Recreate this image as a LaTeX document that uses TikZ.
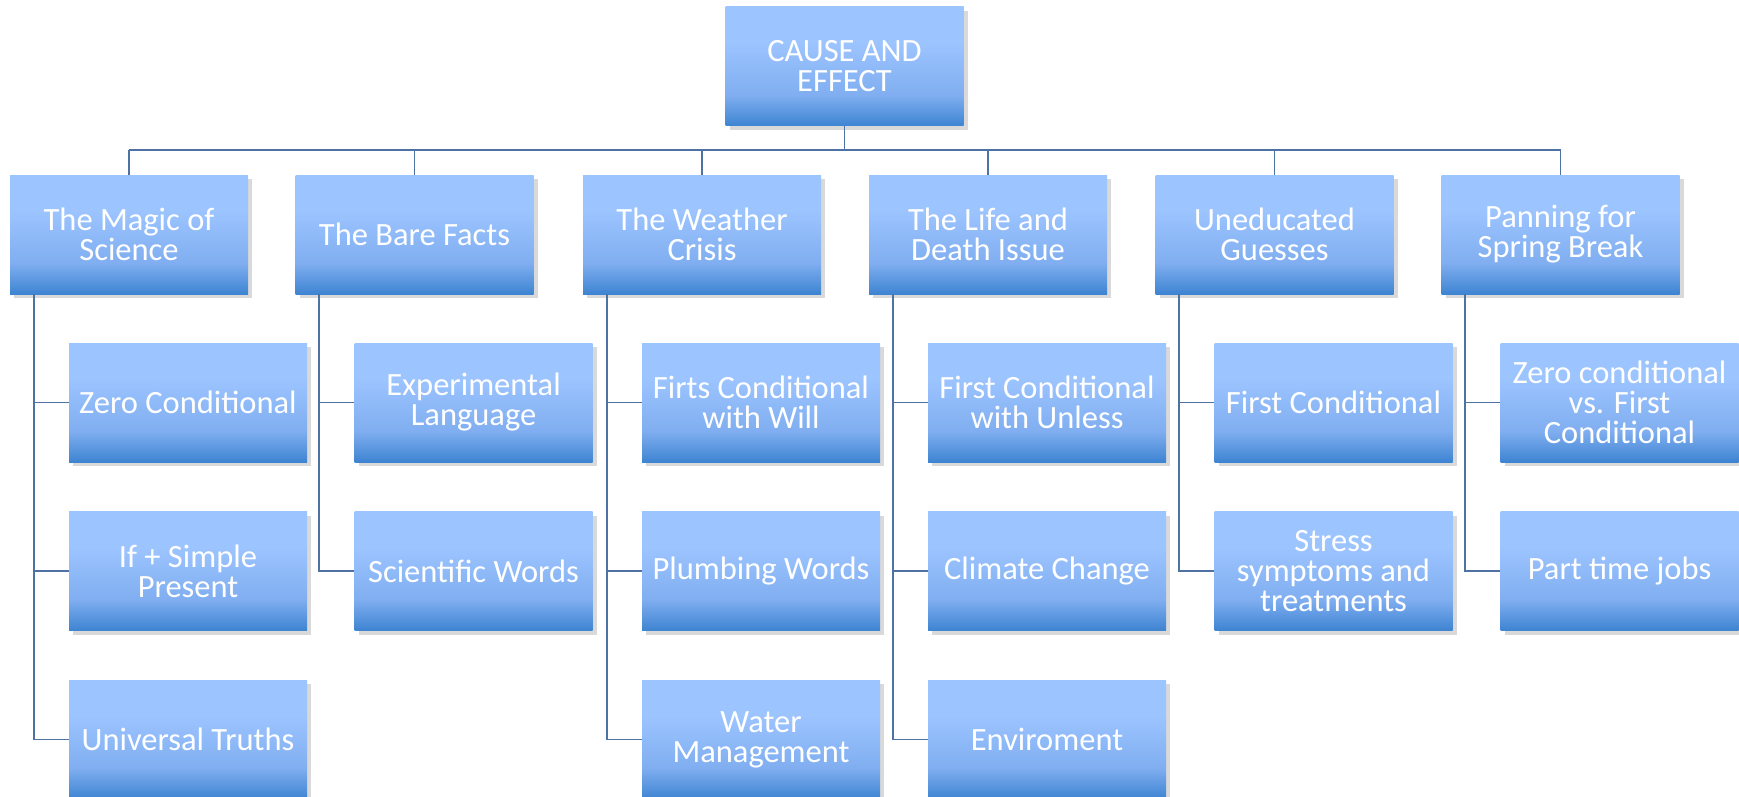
\documentclass[tikz,border=0pt]{standalone}
\usepackage{fontspec}
\setmainfont{Carlito}
\usetikzlibrary{shadows}
\definecolor{blt}{RGB}{156,196,255}
\definecolor{bmd}{RGB}{128,174,240}
\definecolor{bdk}{RGB}{62,132,210}
\definecolor{linec}{RGB}{78,114,164}
\pgfdeclareverticalshading{boxshade}{100bp}{color(0bp)=(bdk); color(25bp)=(bdk); color(38bp)=(bmd); color(60bp)=(blt); color(75bp)=(blt); color(100bp)=(blt)}
\tikzset{
  box/.style={shading=boxshade, minimum width=238pt, minimum height=119pt, inner sep=0pt,
    text=white, align=center, font=\fontsize{32.5pt}{30pt}\selectfont,
    drop shadow={shadow xshift=4pt, shadow yshift=-4pt, opacity=0.15, fill=black}},
  conn/.style={draw=linec, line width=1.8pt},
}
\begin{document}
\begin{tikzpicture}[x=1pt,y=-1pt]
\useasboundingbox (0,0) rectangle (1739,797);
\node[box] (root) at (844.5,66.5) {CAUSE AND\\EFFECT};
\coordinate (busL) at (129,150);
\coordinate (busR) at (1560.5,150);
% level 1
\node[box] (a) at (129,234.5) {The Magic of\\Science};
\node[box] (b) at (414.5,234.5) {The Bare Facts};
\node[box] (c) at (702,234.5) {The Weather\\Crisis};
\node[box] (d) at (988,234.5) {The Life and\\Death Issue};
\node[box] (e) at (1274.5,234.5) {Uneducated\\Guesses};
\node[box] (f) at (1560.5,234.5) {Panning for\\Spring Break};
% level 2
\node[box] (a1) at (188,402.5) {Zero Conditional};
\node[box] (a2) at (188,571) {If + Simple\\Present};
\node[box] (a3) at (188,739.5) {Universal Truths};
\node[box] (b1) at (473.5,402.5) {Experimental\\Language};
\node[box] (b2) at (473.5,571) {Scientific Words};
\node[box] (c1) at (761,402.5) {Firts Conditional\\with Will};
\node[box] (c2) at (761,571) {Plumbing Words};
\node[box] (c3) at (761,739.5) {Water\\Management};
\node[box] (d1) at (1047,402.5) {First Conditional\\with Unless};
\node[box] (d2) at (1047,571) {Climate Change};
\node[box] (d3) at (1047,739.5) {Enviroment};
\node[box] (e1) at (1333.5,402.5) {First Conditional};
\node[box] (e2) at (1333.5,571) {Stress\\symptoms and\\treatments};
\node[box] (f1) at (1619.5,402.5) {Zero conditional\\vs. First\\Conditional};
\node[box] (f2) at (1619.5,571) {Part time jobs};
% connectors
\draw[conn] (root.south) -- (root.south |- busL);
\draw[conn] (busL) -- (busR);
\foreach \p in {a,b,c,d,e,f}{
  \draw[conn] (\p.north |- busL) -- (\p.north);
}
\foreach \p/\c in {a/a1,a/a2,a/a3,b/b1,b/b2,c/c1,c/c2,c/c3,d/d1,d/d2,d/d3,e/e1,e/e2,f/f1,f/f2}{
  \draw[conn] ([xshift=24pt]\p.south west) |- (\c.west);
}
\end{tikzpicture}
\end{document}
